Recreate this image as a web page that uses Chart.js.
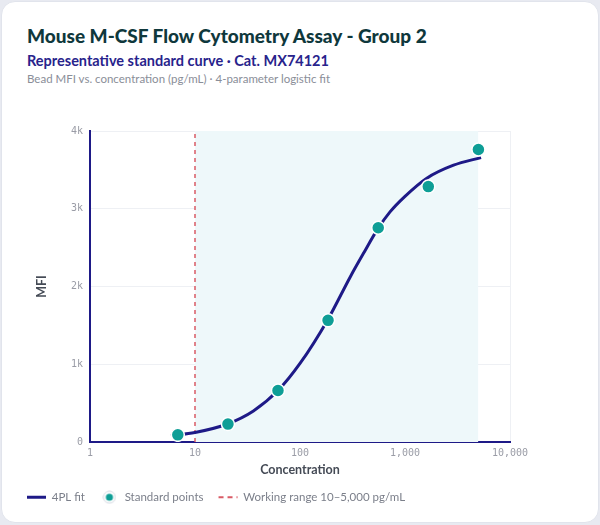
<!DOCTYPE html>
<html>
<head>
<meta charset="utf-8">
<script src="https://cdn.jsdelivr.net/npm/chart.js@4.4.1/dist/chart.umd.min.js"></script>
<style>
  html, body { margin: 0; padding: 0; }
  body { width: 600px; height: 525px; background: #e8eaf1; font-family: Lato, sans-serif; overflow: hidden; }
  .card { position: absolute; left: 1px; top: 1px; width: 596px; height: 520px; background: #fff; border: 1px solid #e1e4ec; border-radius: 14px; }
  .title { position: absolute; left: 27px; top: 24px; font-size: 19px; font-weight: 900; color: #0f383c; }
  .sub { position: absolute; left: 27px; top: 52px; font-size: 14.5px; font-weight: 700; color: #28238c; }
  .note { position: absolute; left: 27px; top: 72px; font-size: 11.5px; color: #8a8e98; }
  .wrap { position: absolute; left: 0; top: 100px; width: 600px; height: 420px; }
</style>
</head>
<body>
<div class="card"></div>
<div class="title">Mouse M-CSF Flow Cytometry Assay - Group 2</div>
<div class="sub">Representative standard curve · Cat. MX74121</div>
<div class="note">Bead MFI vs. concentration (pg/mL) · 4-parameter logistic fit</div>
<div class="wrap"><canvas id="curveChart"></canvas></div>
<script>
// standard points (3-fold dilution series)
const stdConc = [6.86, 20.6, 61.7, 185, 556, 1667, 5000];
const stdMfi = [92, 230, 662, 1565, 2755, 3285, 3762];

// fitted 4PL curve
const fitConc = [5.9, 10, 20, 36, 62, 100, 185, 300, 400, 556, 720, 1000, 1600, 2900, 5300];
const fitMfi = [82, 122, 228, 400, 665, 1010, 1580, 2120, 2420, 2750, 2960, 3160, 3390, 3560, 3658];

// working range
const rangeLow = 10;
const rangeHigh = 5000;
const mfiMax = 4000;

const xTickValues = [1, 10, 100, 1000, 10000];
const xTickLabels = ["1", "10", "100", "1,000", "10,000"];
const yTickLabels = ["0", "1k", "2k", "3k", "4k"];

const navy = "#1e1a87";
const teal = "#0e9e96";
const red = "#d95b66";

// little ringed marker for the legend
const legendDot = document.createElement("canvas");
legendDot.width = 14;
legendDot.height = 14;
(function () {
  const c = legendDot.getContext("2d");
  c.beginPath();
  c.arc(7, 7, 6, 0, Math.PI * 2);
  c.fillStyle = "#fff";
  c.fill();
  c.strokeStyle = "#d4d8e1";
  c.lineWidth = 1;
  c.stroke();
  c.beginPath();
  c.arc(7, 7, 3.6, 0, Math.PI * 2);
  c.fillStyle = teal;
  c.fill();
})();

const pts = (xs, ys) => xs.map((x, i) => ({ x: x, y: ys[i] }));

const data = {
  datasets: [
    {
      label: "4PL fit",
      type: "line",
      data: pts(fitConc, fitMfi),
      borderColor: navy,
      backgroundColor: navy,
      borderWidth: 3,
      pointRadius: 0,
      cubicInterpolationMode: "monotone",
      order: 1,
    },
    {
      label: "Standard points",
      type: "scatter",
      data: pts(stdConc, stdMfi),
      backgroundColor: teal,
      borderColor: "#fff",
      borderWidth: 1.5,
      pointRadius: 6.5,
      order: 0,
    },
    {
      label: "Working range 10–5,000 pg/mL",
      type: "line",
      data: [{ x: rangeLow, y: 0 }, { x: rangeLow, y: mfiMax }],
      borderColor: red,
      backgroundColor: red,
      borderWidth: 1.5,
      borderDash: [4, 4],
      pointRadius: 0,
      order: 2,
    },
    {
      label: "range",
      type: "line",
      data: [{ x: rangeLow, y: mfiMax }, { x: rangeHigh, y: mfiMax }],
      borderWidth: 0,
      pointRadius: 0,
      fill: "origin",
      backgroundColor: "#eef8fa",
      order: 3,
    },
  ],
};

const config = {
  data: data,
  options: {
    responsive: true,
    maintainAspectRatio: false,
    animation: false,
    layout: { padding: { left: 12, right: 90, top: 31, bottom: 7 } },
    plugins: {
      tooltip: { enabled: false },
      legend: {
        position: "bottom",
        align: "start",
        labels: {
          usePointStyle: true,
          boxHeight: 10,
          pointStyleWidth: 19,
          padding: 15,
          color: "#7b7f8a",
          font: { family: "Lato", size: 11.5 },
          filter: (item) => item.text !== "range",
          sort: (a, b) => a.datasetIndex - b.datasetIndex,
          generateLabels: function (chart) {
            const items = Chart.defaults.plugins.legend.labels.generateLabels(chart);
            items.forEach((item) => {
              if (item.datasetIndex === 1) {
                item.pointStyle = legendDot;
              } else {
                item.pointStyle = "line";
                item.lineWidth = item.datasetIndex === 0 ? 3 : 2;
                if (item.datasetIndex === 2) item.lineDash = [5, 4];
              }
            });
            return items;
          },
        },
      },
    },
    scales: {
      x: {
        type: "logarithmic",
        min: 1,
        max: 10000,
        afterBuildTicks: (axis) => {
          axis.ticks = xTickValues.map((v) => ({ value: v }));
        },
        ticks: {
          autoSkip: false,
          maxRotation: 0,
          padding: 6,
          color: "#9a9ca6",
          font: { family: "'DejaVu Sans Mono'", size: 10, lineHeight: 1 },
          callback: (value) => xTickLabels[xTickValues.indexOf(value)],
        },
        grid: { color: "#eef0f4", drawTicks: false },
        border: { color: navy, width: 2 },
        title: {
          display: true,
          text: "Concentration",
          color: "#444a55",
          font: { family: "Lato", size: 12.5, weight: "700", lineHeight: 1 },
          padding: { top: 0, bottom: 0 },
        },
      },
      y: {
        min: 0,
        max: mfiMax,
        afterFit: (axis) => {
          axis.width = 78;
        },
        ticks: {
          stepSize: 1000,
          padding: 7,
          color: "#9a9ca6",
          font: { family: "'DejaVu Sans Mono'", size: 10 },
          callback: (value) => yTickLabels[value / 1000],
        },
        grid: { color: "#eef0f4", drawTicks: false },
        border: { color: navy, width: 2 },
        title: {
          display: true,
          text: "MFI",
          color: "#444a55",
          font: { family: "Lato", size: 12.5, weight: "700" },
          padding: { top: 22, bottom: 0 },
        },
      },
    },
  },
};

const curveChart = new Chart(document.getElementById("curveChart"), config);
</script>
</body>
</html>
